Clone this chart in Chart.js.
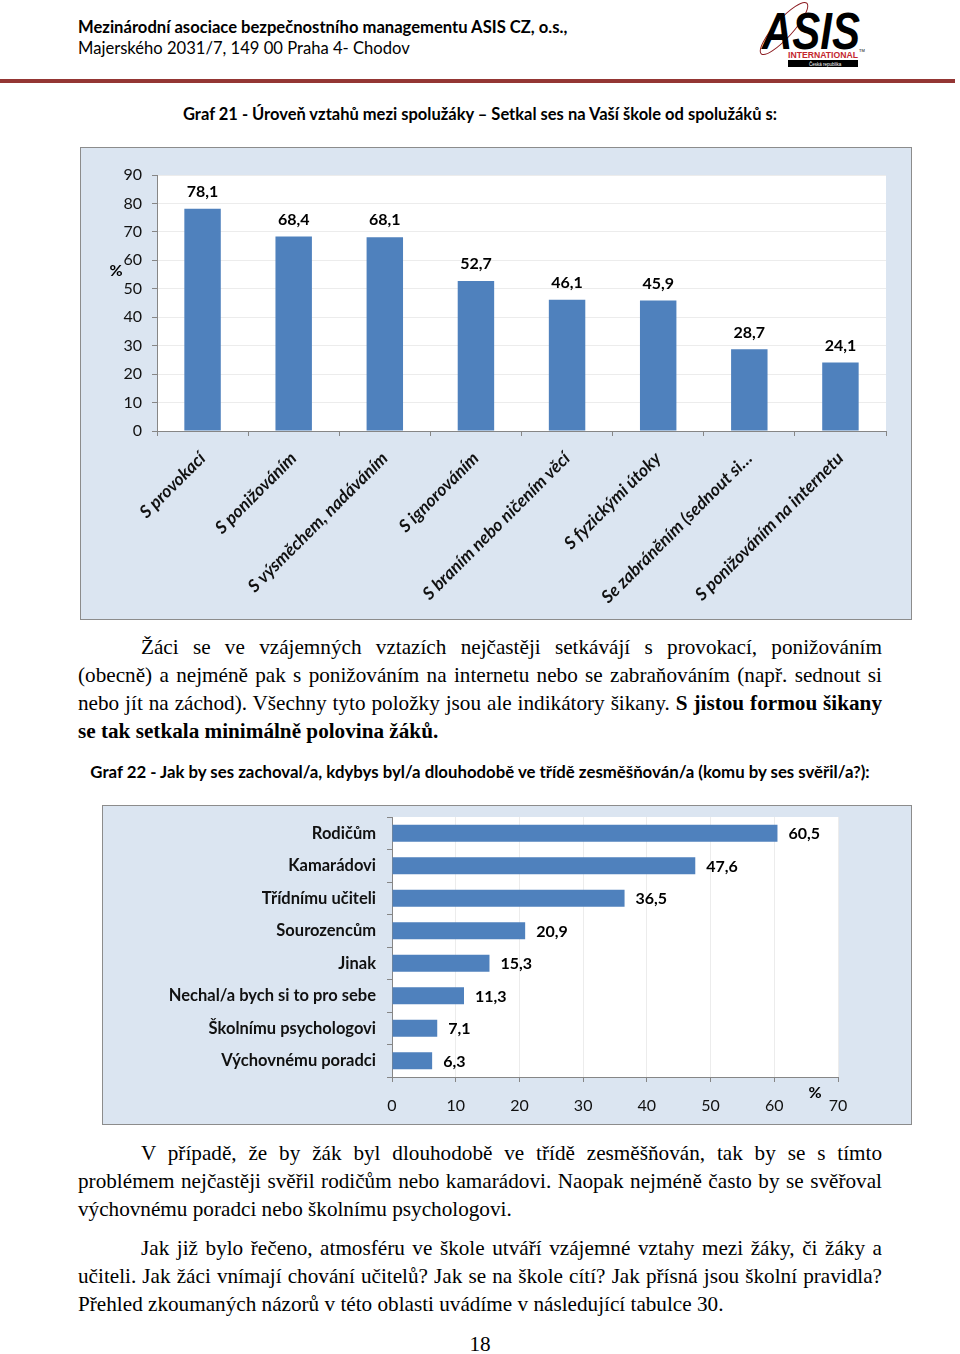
<!DOCTYPE html>
<html lang="cs">
<head>
<meta charset="utf-8">
<script src="https://cdn.jsdelivr.net/npm/chart.js@4.4.1/dist/chart.umd.min.js"></script>
<style>
body{margin:0;background:#fff;width:960px;height:1354px;position:relative;overflow:hidden;font-family:Lato,sans-serif;color:#000}
.abs{position:absolute}
.hlava1{left:78px;top:17px;font-weight:bold;font-size:16.6px;line-height:20px}
.hlava2{left:78px;top:38px;font-size:16.6px;line-height:20px}
.cara{left:0;top:79px;width:955px;height:4px;background:#943634}
.titulek{left:0;width:960px;text-align:center;font-weight:bold;line-height:20px}
.ramec{background:#dbe5f1;border:1px solid #8c8c8c;box-sizing:border-box}
.text{left:78px;width:804px;font-family:"Liberation Serif",serif;font-size:21.2px;line-height:28px}
.j{text-align:justify;text-align-last:justify}
.odsaz{text-indent:63px}
</style>
</head>
<body>
<div class="abs hlava1">Mezinárodní asociace bezpečnostního managementu ASIS CZ, o.s.,</div>
<div class="abs hlava2">Majerského 2031/7, 149 00 Praha 4- Chodov</div>
<svg class="abs" style="left:740px;top:0" width="130" height="72" viewBox="0 0 130 72">
  <ellipse cx="44" cy="28.5" rx="34" ry="9" transform="rotate(-48 44 28.5)" fill="none" stroke="#8b1a1f" stroke-width="1"/>
  <text x="22" y="49" font-family="Liberation Sans" font-weight="bold" font-style="italic" font-size="52" textLength="98" lengthAdjust="spacingAndGlyphs" fill="#000">ASIS</text>
  <text x="48" y="58" font-family="Liberation Sans" font-weight="bold" font-size="9" textLength="70" lengthAdjust="spacingAndGlyphs" fill="#c4262e">INTERNATIONAL</text>
  <text x="119" y="52" font-family="Liberation Sans" font-size="4" fill="#000">TM</text>
  <rect x="48" y="60" width="70" height="7" fill="#000"/>
  <text x="69" y="65.5" font-family="Liberation Sans" font-size="4.5" fill="#fff">Česká republika</text>
</svg>
<div class="abs cara"></div>

<div class="abs titulek" style="top:104px;font-size:16.5px">Graf 21 - Úroveň vztahů mezi spolužáky – Setkal ses na Vaší škole od spolužáků s:</div>
<div class="abs ramec" style="left:80px;top:147px;width:832px;height:473px"></div>
<div class="abs" style="left:80px;top:147px;width:832px;height:473px"><canvas id="graf21"></canvas></div>

<div class="abs text" style="top:633px">
  <div class="j odsaz">Žáci se ve vzájemných vztazích nejčastěji setkávájí s provokací, ponižováním</div>
  <div class="j">(obecně) a nejméně pak s ponižováním na internetu nebo se zabraňováním (např. sednout si</div>
  <div class="j">nebo jít na záchod). Všechny tyto položky jsou ale indikátory šikany. <b>S jistou formou šikany</b></div>
  <div><b>se tak setkala minimálně polovina žáků.</b></div>
</div>

<div class="abs titulek" style="top:762px;font-size:16.8px">Graf 22 - Jak by ses zachoval/a, kdybys byl/a dlouhodobě ve třídě zesměšňován/a (komu by ses svěřil/a?):</div>
<div class="abs ramec" style="left:102px;top:805px;width:810px;height:320px"></div>
<div class="abs" style="left:102px;top:805px;width:810px;height:320px"><canvas id="graf22"></canvas></div>

<div class="abs text" style="top:1139px">
  <div class="j odsaz">V případě, že by žák byl dlouhodobě ve třídě zesměšňován, tak by se s tímto</div>
  <div class="j">problémem nejčastěji svěřil rodičům nebo kamarádovi. Naopak nejméně často by se svěřoval</div>
  <div>výchovnému poradci nebo školnímu psychologovi.</div>
</div>
<div class="abs text" style="top:1234px">
  <div class="j odsaz">Jak již bylo řečeno, atmosféru ve škole utváří vzájemné vztahy mezi žáky, či žáky a</div>
  <div class="j">učiteli. Jak žáci vnímají chování učitelů? Jak se na škole cítí? Jak přísná jsou školní pravidla?</div>
  <div>Přehled zkoumaných názorů v této oblasti uvádíme v následující tabulce 30.</div>
</div>
<div class="abs text" style="top:1330px;left:0;width:960px;text-align:center">18</div>

<script>
// data grafu 21
const kategorie21 = ['S provokací', 'S ponižováním', 'S výsměchem, nadáváním', 'S ignorováním',
  'S braním nebo ničením věcí', 'S fyzickými útoky', 'Se zabráněním (sednout si…', 'S ponižováním na internetu'];
const hodnoty21 = [78.1, 68.4, 68.1, 52.7, 46.1, 45.9, 28.7, 24.1];
const osaY21 = {min: 0, max: 90, krok: 10};

// data grafu 22
const kategorie22 = ['Rodičům', 'Kamarádovi', 'Třídnímu učiteli', 'Sourozencům', 'Jinak',
  'Nechal/a bych si to pro sebe', 'Školnímu psychologovi', 'Výchovnému poradci'];
const hodnoty22 = [60.5, 47.6, 36.5, 20.9, 15.3, 11.3, 7.1, 6.3];
const osaX22 = {min: 0, max: 70, krok: 10};

Chart.defaults.font.family = 'Lato';
Chart.defaults.color = '#111';
const modra = '#4f81bd';
const seda = '#868686';

// bile pozadi plochy grafu
const bilePozadi = {
  id: 'bilePozadi',
  beforeDraw(chart) {
    const {ctx, chartArea: a} = chart;
    ctx.save();
    ctx.fillStyle = '#fff';
    ctx.fillRect(a.left, a.top, a.right - a.left, a.bottom - a.top);
    ctx.restore();
  }
};

// hodnoty u sloupcu + znak %
const popisky = {
  id: 'popisky',
  afterDatasetsDraw(chart, args, opts) {
    const ctx = chart.ctx;
    const meta = chart.getDatasetMeta(0);
    ctx.save();
    ctx.font = 'bold 16px Lato';
    ctx.fillStyle = '#000';
    meta.data.forEach((bar, i) => {
      const txt = chart.data.datasets[0].data[i].toFixed(1).replace('.', ',');
      if (opts.vodorovne) {
        ctx.textAlign = 'left'; ctx.textBaseline = 'middle';
        ctx.fillText(txt, bar.x + 11, bar.y + 1);
      } else {
        ctx.textAlign = 'center'; ctx.textBaseline = 'bottom';
        ctx.fillText(txt, bar.x, bar.y - 9);
      }
    });
    ctx.textAlign = 'center'; ctx.textBaseline = 'middle';
    ctx.fillText('%', chart.chartArea.left + opts.pctX, chart.chartArea.top + opts.pctY);
    ctx.restore();
  }
};

new Chart(document.getElementById('graf21'), {
  type: 'bar',
  data: {
    labels: kategorie21,
    datasets: [{data: hodnoty21, backgroundColor: modra, barPercentage: 0.4, categoryPercentage: 1}]
  },
  options: {
    responsive: true, maintainAspectRatio: false, animation: false,
    layout: {padding: {left: 0, right: 26, top: 28, bottom: 0}},
    plugins: {legend: {display: false}, tooltip: {enabled: false},
      popisky: {vodorovne: false, pctX: -41, pctY: 96}},
    scales: {
      x: {
        grid: {offset: true, drawOnChartArea: false, tickColor: seda, tickLength: 5},
        border: {color: seda},
        ticks: {autoSkip: false, maxRotation: 45, minRotation: 45, padding: 12,
          font: {size: 17.5, weight: 'bold', style: 'italic'}},
        afterFit(s) { s.height = 189; s.paddingLeft = 0; s.paddingRight = 0; }
      },
      y: {
        min: osaY21.min, max: osaY21.max,
        grid: {color: '#ececec', tickColor: seda, tickLength: 5},
        border: {color: seda},
        ticks: {stepSize: osaY21.krok, padding: 10, font: {size: 16}},
        afterFit(s) { s.width = 77; s.paddingTop = 0; s.paddingBottom = 0; }
      }
    }
  },
  plugins: [bilePozadi, popisky]
});

new Chart(document.getElementById('graf22'), {
  type: 'bar',
  data: {
    labels: kategorie22,
    datasets: [{data: hodnoty22, backgroundColor: modra, barPercentage: 0.52, categoryPercentage: 1}]
  },
  options: {
    indexAxis: 'y',
    responsive: true, maintainAspectRatio: false, animation: false,
    layout: {padding: {left: 0, right: 74, top: 12, bottom: 0}},
    plugins: {legend: {display: false}, tooltip: {enabled: false},
      popisky: {vodorovne: true, pctX: 423, pctY: 276}},
    scales: {
      x: {
        min: osaX22.min, max: osaX22.max,
        grid: {color: '#ececec', tickColor: seda, tickLength: 5},
        border: {color: seda},
        ticks: {stepSize: osaX22.krok, padding: 14, font: {size: 16}},
        afterFit(s) { s.height = 48; s.paddingLeft = 0; s.paddingRight = 0; }
      },
      y: {
        grid: {offset: true, drawOnChartArea: false, tickColor: seda, tickLength: 5},
        border: {color: seda},
        ticks: {padding: 11, font: {size: 16.5, weight: 'bold'}},
        afterFit(s) { s.width = 290; s.paddingTop = 0; s.paddingBottom = 0; }
      }
    }
  },
  plugins: [bilePozadi, popisky]
});
</script>
</body>
</html>
